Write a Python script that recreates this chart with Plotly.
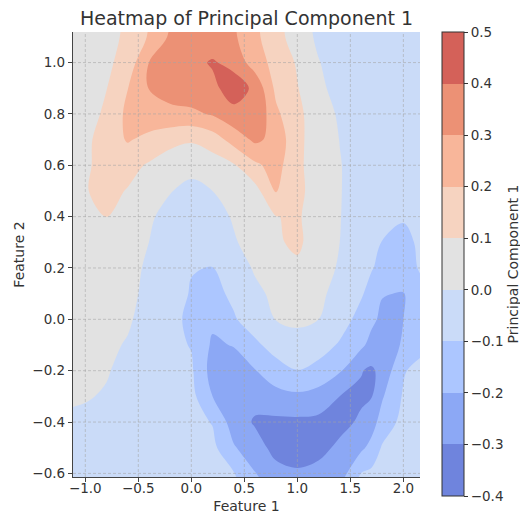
import plotly.graph_objects as go

# ---- data ----
feature1 = [-1.2, -1.0, -0.8, -0.6, -0.4, -0.2, 0.0, 0.2, 0.4, 0.6, 0.8, 1.0, 1.2, 1.4, 1.6, 1.7, 1.8, 2.0, 2.2]
feature2 = [-0.7, -0.6, -0.5, -0.4, -0.3, -0.2, -0.1, 0.0, 0.1, 0.2, 0.3, 0.4, 0.5, 0.6, 0.7, 0.8, 0.9, 1.0, 1.1, 1.2]

pc1_row_m07 = [-0.03, -0.035, -0.04, -0.045, -0.05, -0.05, -0.055, -0.06, -0.07, -0.13, -0.2, -0.2, -0.19, -0.14, -0.07, -0.05, -0.04, -0.025, -0.02]
pc1_row_m06 = [-0.025, -0.03, -0.035, -0.04, -0.045, -0.05, -0.06, -0.07, -0.095, -0.195, -0.27, -0.285, -0.27, -0.25, -0.1, -0.08, -0.05, -0.03, -0.02]
pc1_row_m05 = [-0.02, -0.025, -0.03, -0.035, -0.045, -0.055, -0.065, -0.075, -0.19, -0.26, -0.33, -0.355, -0.33, -0.28, -0.22, -0.17, -0.09, -0.04, -0.02]
pc1_row_m04 = [-0.01, -0.015, -0.02, -0.03, -0.045, -0.06, -0.07, -0.105, -0.25, -0.31, -0.32, -0.32, -0.325, -0.33, -0.285, -0.24, -0.16, -0.07, -0.03]
pc1_row_m03 = [0.01, 0.005, -0.006, -0.02, -0.04, -0.06, -0.07, -0.2, -0.27, -0.27, -0.235, -0.22, -0.24, -0.3, -0.315, -0.305, -0.21, -0.09, -0.04]
pc1_row_m02 = [0.02, 0.012, 0.005, -0.02, -0.045, -0.07, -0.085, -0.24, -0.25, -0.205, -0.14, -0.102, -0.13, -0.19, -0.295, -0.315, -0.27, -0.11, -0.05]
pc1_row_m01 = [0.025, 0.02, 0.012, -0.005, -0.04, -0.075, -0.105, -0.215, -0.195, -0.12, -0.06, -0.04, -0.06, -0.11, -0.18, -0.23, -0.25, -0.19, -0.13]
pc1_row_p00 = [0.03, 0.025, 0.02, 0.008, -0.025, -0.08, -0.115, -0.18, -0.11, -0.05, 0.003, 0.02, 0.0, -0.06, -0.13, -0.18, -0.22, -0.2, -0.15]
pc1_row_p01 = [0.035, 0.03, 0.02, 0.01, -0.01, -0.07, -0.105, -0.13, -0.08, -0.02, 0.02, 0.035, 0.025, -0.04, -0.09, -0.13, -0.195, -0.205, -0.12]
pc1_row_p02 = [0.04, 0.04, 0.03, 0.02, -0.01, -0.06, -0.097, -0.102, -0.05, 0.01, 0.05, 0.085, 0.04, -0.01, -0.06, -0.095, -0.12, -0.14, -0.08]
pc1_row_p03 = [0.05, 0.06, 0.05, 0.03, 0.0, -0.05, -0.08, -0.07, -0.01, 0.04, 0.09, 0.115, 0.06, 0.0, -0.05, -0.075, -0.102, -0.115, -0.085]
pc1_row_p04 = [0.05, 0.08, 0.102, 0.065, 0.015, -0.035, -0.06, -0.04, 0.01, 0.055, 0.098, 0.11, 0.06, 0.003, -0.045, -0.065, -0.08, -0.095, -0.09]
pc1_row_p05 = [0.04, 0.095, 0.125, 0.095, 0.05, 0.005, -0.03, 0.0, 0.04, 0.065, 0.205, 0.12, 0.065, 0.005, -0.045, -0.065, -0.08, -0.09, -0.09]
pc1_row_p06 = [0.035, 0.085, 0.135, 0.13, 0.09, 0.05, 0.035, 0.05, 0.09, 0.18, 0.24, 0.115, 0.065, 0.005, -0.045, -0.065, -0.08, -0.09, -0.085]
pc1_row_p07 = [0.03, 0.08, 0.14, 0.21, 0.17, 0.13, 0.11, 0.15, 0.24, 0.32, 0.27, 0.12, 0.06, -0.002, -0.05, -0.068, -0.08, -0.085, -0.08]
pc1_row_p08 = [0.02, 0.065, 0.115, 0.225, 0.27, 0.28, 0.28, 0.31, 0.37, 0.395, 0.22, 0.12, 0.055, -0.015, -0.06, -0.072, -0.08, -0.08, -0.075]
pc1_row_p09 = [0.01, 0.05, 0.098, 0.198, 0.302, 0.33, 0.36, 0.375, 0.45, 0.38, 0.175, 0.105, 0.025, -0.04, -0.07, -0.076, -0.08, -0.075, -0.07]
pc1_row_p10 = [0.02, 0.045, 0.08, 0.14, 0.30, 0.34, 0.37, 0.41, 0.37, 0.25, 0.165, 0.09, 0.005, -0.05, -0.07, -0.073, -0.075, -0.07, -0.06]
pc1_row_p11 = [-0.01, 0.035, 0.075, 0.115, 0.21, 0.315, 0.34, 0.34, 0.315, 0.225, 0.13, 0.06, -0.02, -0.06, -0.07, -0.07, -0.07, -0.06, -0.05]
pc1_row_p12 = [-0.02, 0.02, 0.07, 0.11, 0.2, 0.3, 0.33, 0.33, 0.31, 0.22, 0.13, 0.05, -0.03, -0.06, -0.07, -0.067, -0.065, -0.06, -0.05]

pc1 = [pc1_row_m07, pc1_row_m06, pc1_row_m05, pc1_row_m04, pc1_row_m03, pc1_row_m02,
       pc1_row_m01, pc1_row_p00, pc1_row_p01, pc1_row_p02, pc1_row_p03, pc1_row_p04,
       pc1_row_p05, pc1_row_p06, pc1_row_p07, pc1_row_p08, pc1_row_p09, pc1_row_p10,
       pc1_row_p11, pc1_row_p12]

levels = [-0.4, -0.3, -0.2, -0.1, 0.0, 0.1, 0.2, 0.3, 0.4, 0.5]
x_ticks = [-1.0, -0.5, 0.0, 0.5, 1.0, 1.5, 2.0]
y_ticks = [-0.6, -0.4, -0.2, 0.0, 0.2, 0.4, 0.6, 0.8, 1.0]

# ---- style ----
band_colors = ["rgb(111,132,221)", "rgb(140,168,245)", "rgb(172,198,255)", "rgb(202,219,248)",
               "rgb(226,226,226)", "rgb(246,211,192)", "rgb(248,182,154)", "rgb(236,145,117)",
               "rgb(212,97,89)"]
# colour map used by the contour fills (plotly samples band midpoints)
contour_scale = [[0.0, band_colors[0]]]
for i, c in enumerate(band_colors):
    contour_scale.append([(i + 1) / 10, c])
contour_scale.append([1.0, band_colors[-1]])
# stepwise colour map for the colour bar
n = len(band_colors)
bar_scale = []
for i, c in enumerate(band_colors):
    bar_scale.append([i / n, c])
    bar_scale.append([(i + 1) / n, c])


def fmt(v):
    s = f"{v:.1f}"
    if s.startswith("-"):
        s = "\u2212" + s[1:]
    if s == "\u22120.0":
        s = "0.0"
    return s


FONT = "DejaVu Sans"
TXT = "#333333"

fig = go.Figure()
fig.add_trace(go.Contour(
    x=feature1, y=feature2, z=pc1,
    autocontour=False,
    contours=dict(start=levels[0], end=levels[-1], size=0.1, coloring="fill"),
    colorscale=contour_scale,
    line=dict(width=0, smoothing=1.0),
    showscale=False,
    hoverinfo="skip",
))

# colour bar carrier (no visible marks)
fig.add_trace(go.Scatter(
    x=[None], y=[None], mode="markers", showlegend=False, hoverinfo="skip",
    marker=dict(
        color=[levels[0]], cmin=levels[0], cmax=levels[-1], colorscale=bar_scale,
        showscale=True,
        colorbar=dict(
            thickness=22, len=464, lenmode="pixels",
            x=1.0625, xanchor="left", xpad=0,
            y=1.0, yanchor="top", ypad=0,
            outlinewidth=1, outlinecolor="#333",
            tickmode="array", tickvals=levels, ticktext=[fmt(v) for v in levels],
            ticks="outside", ticklen=4, tickcolor="#333",
            tickfont=dict(family=FONT, size=13.5, color=TXT),
            title=dict(text="Principal Component 1", side="right",
                       font=dict(family=FONT, size=14, color=TXT)),
        ),
    ),
))

shapes = []
for xv in x_ticks:
    shapes.append(dict(type="line", xref="x", yref="paper", x0=xv, x1=xv, y0=0, y1=1,
                       line=dict(color="rgba(165,165,165,0.7)", width=0.8, dash="3px,2px"),
                       layer="above"))
for yv in y_ticks:
    shapes.append(dict(type="line", xref="paper", yref="y", x0=0, x1=1, y0=yv, y1=yv,
                       line=dict(color="rgba(165,165,165,0.7)", width=0.8, dash="3px,2px"),
                       layer="above"))

fig.update_layout(
    width=520, height=516,
    margin=dict(l=73, r=100, t=32, b=39, autoexpand=False),
    paper_bgcolor="white", plot_bgcolor="white",
    font=dict(family=FONT, color=TXT),
    title=dict(text="Heatmap of Principal Component 1", x=0.5, xref="paper",
               y=1 - 18 / 516, yanchor="middle", xanchor="center",
               font=dict(family=FONT, size=19, color=TXT)),
    shapes=shapes,
    xaxis=dict(range=[-1.116, 2.157], tickmode="array", tickvals=x_ticks,
               ticktext=[fmt(v) for v in x_ticks], showgrid=False, zeroline=False,
               showline=True, linecolor="#444", linewidth=1.3, ticks="outside",
               ticklen=4, tickcolor="#444", tickfont=dict(family=FONT, size=13.5, color=TXT),
               ticklabelstandoff=-5,
               title=dict(text="Feature 1", font=dict(family=FONT, size=14, color=TXT), standoff=5),
               layer="above traces"),
    yaxis=dict(range=[-0.614, 1.119], tickmode="array", tickvals=y_ticks,
               ticktext=[fmt(v) for v in y_ticks], showgrid=False, zeroline=False,
               showline=True, linecolor="#444", linewidth=1.3, ticks="outside",
               ticklen=4, tickcolor="#444", tickfont=dict(family=FONT, size=13.5, color=TXT),
               title=dict(text="Feature 2", font=dict(family=FONT, size=14, color=TXT), standoff=4),
               layer="above traces"),
)

fig.write_html("out.html")
